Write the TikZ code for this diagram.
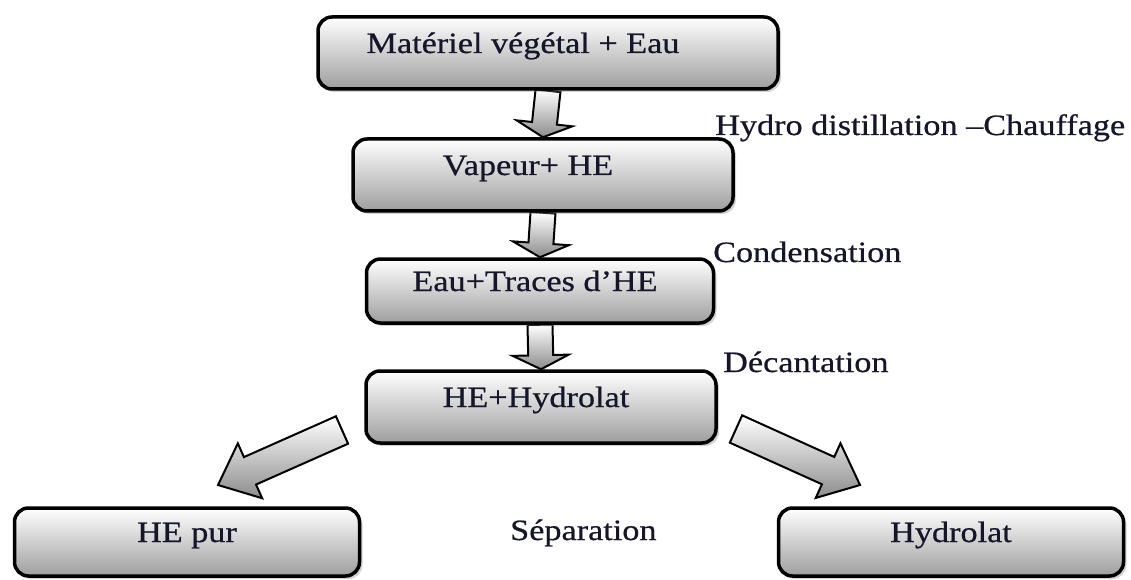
\documentclass[tikz,border=0pt]{standalone}
\usepackage{fontspec}
\setmainfont{Liberation Serif}[FakeStretch=1.16, FakeBold=0.6]
\usetikzlibrary{calc,shadows,backgrounds}

\definecolor{inkdark}{HTML}{16162A}
\tikzset{
  stage/.style={rectangle, rounded corners=14pt, draw=black, line width=3.5pt,
    top color=white, bottom color=black!38, text=inkdark,
    drop shadow={shadow xshift=3pt, shadow yshift=-3pt, opacity=0.35},
    text height=10pt, text depth=10pt, inner sep=0pt},
  fatarr/.style={draw=black, line width=2pt, top color=white, bottom color=black!45},
  proc/.style={anchor=base west, inner sep=0pt, text=inkdark}
}

% tail, tip, half shaft, half head, head length
\newcommand{\fatarrow}[5]{%
  \path (#1) coordinate (fa-t) (#2) coordinate (fa-h) ($(fa-h)!#5!(fa-t)$) coordinate (fa-n);
  \draw[fatarr] ($(fa-t)!#3!90:(fa-h)$) -- ($(fa-n)!#3!90:(fa-h)$) -- ($(fa-n)!#4!90:(fa-h)$) -- (fa-h)
    -- ($(fa-n)!#4!-90:(fa-h)$) -- ($(fa-n)!#3!-90:(fa-h)$) -- ($(fa-t)!#3!-90:(fa-h)$) -- cycle;}

\begin{document}
\begin{tikzpicture}[x=1pt, y=1pt, font=\fontsize{29.5}{34}\selectfont]
\useasboundingbox (0,0) rectangle (1131,579);

\node[stage, minimum width=460, minimum height=72] (mat) at (548,526) {Matériel végétal + Eau\hspace*{50pt}};
\node[stage, minimum width=380, minimum height=72] (vap) at (543,404) {Vapeur+ HE\hspace*{30pt}};
\node[stage, minimum width=347, minimum height=64] (eau) at (540,288) {Eau+Traces d’HE\hspace*{10pt}};
\node[stage, minimum width=350, minimum height=72] (hh) at (541,172) {HE+Hydrolat\hspace*{10pt}};
\node[stage, minimum width=345, minimum height=68] (pur) at (187,37) {HE pur};
\node[stage, minimum width=345, minimum height=68] (hyd) at (951,37) {Hydrolat};

\node[proc] (chauf) at (715,444) {Hydro distillation –Chauffage};
\node[proc] (cond) at (713,317) {Condensation};
\node[proc] (decant) at (723,207) {Décantation};
\node[proc] (separ) at (510,39) {Séparation};

\begin{scope}[on background layer]
\foreach \a/\b in {mat/vap, vap/eau, eau/hh}
  \fatarrow{\a.south}{\b.north}{12.5pt}{28pt}{14pt};
\end{scope}

\coordinate (lt) at (342,149);
\coordinate (lh) at (218,94);
\coordinate (rt) at (736,150);
\coordinate (rh) at (860,94);
\fatarrow{lt}{lh}{15pt}{30pt}{35pt}
\fatarrow{rt}{rh}{15pt}{30pt}{35pt}
\end{tikzpicture}
\end{document}
